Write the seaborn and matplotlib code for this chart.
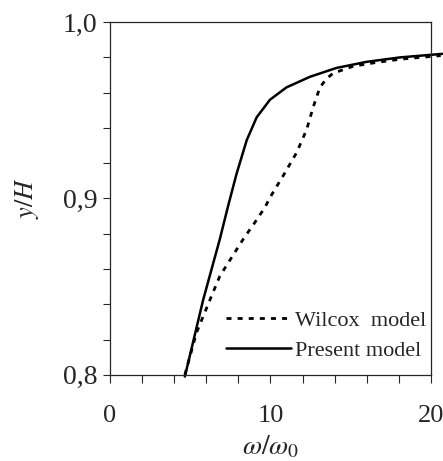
import numpy as np
import pandas as pd
import seaborn as sns
import matplotlib.pyplot as plt
from matplotlib.ticker import MultipleLocator

# Data
present_x = [4.67, 5.81, 6.85, 7.37, 7.89, 8.52, 9.14, 9.97, 11.0, 12.46, 14.1, 16.0, 18.07, 20.7]
present_y = [0.799, 0.8425, 0.877, 0.896, 0.914, 0.933, 0.946, 0.956, 0.963, 0.969, 0.974, 0.9775, 0.980, 0.982]
wilcox_x = [4.67, 5.4, 6.23, 6.85, 7.89, 8.31, 9.0, 9.66, 10.0, 10.8, 11.63, 12.25, 12.67, 13.08, 13.5, 13.9,
            15.16, 16.5, 18.1, 20.6]
wilcox_y = [0.800, 0.824, 0.8425, 0.856, 0.871, 0.877, 0.886, 0.895, 0.901, 0.913, 0.926, 0.939, 0.952, 0.963,
            0.968, 0.971, 0.975, 0.977, 0.979, 0.981]
x_ticks = [0, 10, 20]
y_ticks = [0.8, 0.9, 1.0]
y_tick_labels = ['0,8', '0,9', '1,0']

sns.set_style('ticks')
plt.rcParams['font.family'] = ['Liberation Serif', 'DejaVu Serif']
plt.rcParams['mathtext.fontset'] = 'stix'

df = pd.concat([
    pd.DataFrame({'x': wilcox_x, 'y': wilcox_y, 'model': 'Wilcox  model'}),
    pd.DataFrame({'x': present_x, 'y': present_y, 'model': 'Present model'}),
])

fig = plt.figure(figsize=(4.43, 4.61), dpi=100)
ax = fig.add_axes([0.248, 0.187, 0.725, 0.765])

sns.lineplot(data=df[df.model == 'Wilcox  model'], x='x', y='y', color='black',
             lw=2, linestyle=(0, (1.8, 2.2)), ax=ax, label='Wilcox  model', sort=False)
sns.lineplot(data=df[df.model == 'Present model'], x='x', y='y', color='black',
             lw=1.8, ax=ax, label='Present model', sort=False)
for ln in ax.lines:
    ln.set_clip_on(False)
    ln.set_solid_joinstyle('round')
    ln.set_dash_joinstyle('round')

ax.set_xlim(0, 20)
ax.set_ylim(0.8, 1.0)
ax.set_xticks(x_ticks)
ax.xaxis.set_minor_locator(MultipleLocator(2))
ax.set_yticks(y_ticks)
ax.set_yticklabels(y_tick_labels)
ax.yaxis.set_minor_locator(MultipleLocator(0.02))
ax.tick_params(axis='x', which='both', direction='out', length=6, width=0.8, pad=16, labelsize=19)
ax.tick_params(axis='y', which='both', direction='out', length=5, width=0.8, pad=4, labelsize=20)
for s in ax.spines.values():
    s.set_visible(True)
    s.set_linewidth(0.9)

ax.set_xlabel(r'$\omega/\omega_0$', fontsize=20, labelpad=5)
ax.set_ylabel(r'$y/H$', fontsize=19, labelpad=16)

ax.legend(loc='lower right', bbox_to_anchor=(0.985, 0.04), frameon=False, fontsize=16,
          handlelength=2.9, handletextpad=0.2, labelspacing=0.4, borderaxespad=0, borderpad=0)

fig.savefig('out.png', dpi=100)
